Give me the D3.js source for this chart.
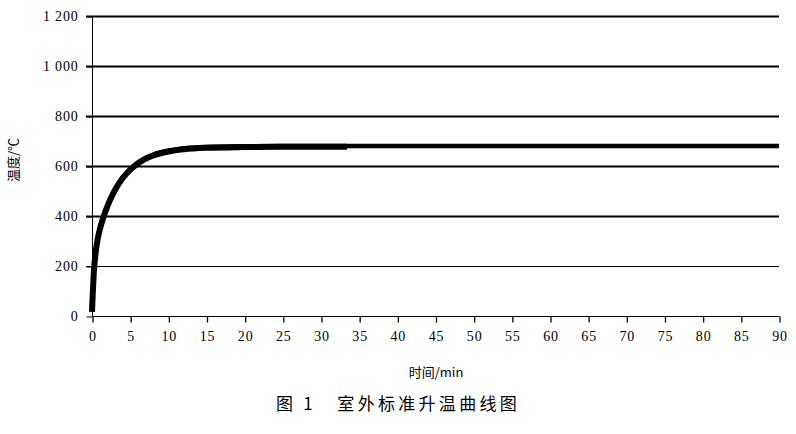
<!DOCTYPE html>
<html>
<head>
<meta charset="utf-8">
<script src="https://cdn.jsdelivr.net/npm/d3@7"></script>
<style>
  body { margin: 0; background: #fff; }
  text { fill: #000; }
</style>
</head>
<body>
<div class="viz"></div>
<script>
// values
const times = [0, 0.25, 0.5, 0.75, 1, 1.5, 2, 2.5, 3, 4, 5, 6, 7, 8, 10, 12, 15, 20, 25, 30, 33.4, 40, 50, 60, 70, 80, 90];
const temps = [20, 182, 263, 311, 346, 399, 441, 476, 506, 554, 588, 613, 632, 645, 661, 670, 676, 679, 680, 680, 680, 680, 680, 680, 680, 680, 680];
const xTicks = d3.range(0, 91, 5);
const yTicks = [0, 200, 400, 600, 800, 1000, 1200];
const yTickLabels = ['0', '200', '400', '600', '800', '1 000', '1 200'];
const thickUntil = 33.4;

const w = 796, h = 434;
const svg = d3.select('.viz').append('svg')
    .attr('width', w)
    .attr('height', h);

const x = d3.scaleLinear().domain([0, 90]).range([92, 779]);
const y = d3.scaleLinear().domain([0, 1200]).range([316, 16]);

const serif = '"Liberation Serif"';
const cjk = '"Noto Sans CJK SC"';

// horizontal grid lines with short tick stubs on the left
svg.append('g').selectAll('line')
    .data(yTicks.filter(d => d > 0))
    .enter()
    .append('line')
    .attr('x1', 86)
    .attr('x2', x(90))
    .attr('y1', d => Math.round(y(d)) + 0.5)
    .attr('y2', d => Math.round(y(d)) + 0.5)
    .attr('stroke', '#000')
    .attr('stroke-width', d => d === 200 ? 1.2 : 2);

// y axis
const yAxis = d3.axisLeft(y)
    .tickValues(yTicks)
    .tickFormat((d, i) => yTickLabels[i])
    .tickSize(6)
    .tickPadding(8);
const gy = svg.append('g')
    .attr('transform', 'translate(92.5,0.5)')
    .call(yAxis);
gy.attr('font-family', null).attr('font-size', null);
gy.select('.domain').attr('stroke', '#000').attr('d', `M0,${y(1200)}V${y(0)}`);
gy.selectAll('.tick line').attr('stroke', '#000');
gy.selectAll('.tick text')
    .style('font-family', serif)
    .style('font-size', '14px')
    .style('letter-spacing', '0.8px')
    .style('white-space', 'pre')
    .style('fill', '#000');

// x axis
const xAxis = d3.axisBottom(x)
    .tickValues(xTicks)
    .tickSize(6)
    .tickPadding(9);
const gx = svg.append('g')
    .attr('transform', 'translate(0.5,316.5)')
    .call(xAxis);
gx.attr('font-family', null).attr('font-size', null);
gx.select('.domain').attr('stroke', '#000').attr('d', `M${x(0)},0H${x(90)}`);
gx.selectAll('.tick line').attr('stroke', '#000').attr('stroke-width', 1.3);
gx.selectAll('.tick text')
    .style('font-family', serif)
    .style('font-size', '14px')
    .style('letter-spacing', '0.8px')
    .style('fill', '#000');

// curve
const points = times.map((t, i) => ({ t: t, v: temps[i] }));
const line = d3.line()
    .x(d => x(d.t))
    .y(d => y(d.v))
    .curve(d3.curveMonotoneX);

svg.append('path')
    .datum(points)
    .attr('d', line)
    .attr('fill', 'none')
    .attr('stroke', '#000')
    .attr('stroke-width', 4.5);

svg.append('path')
    .datum(points.filter(d => d.t <= thickUntil))
    .attr('d', line)
    .attr('transform', 'translate(0,0.8)')
    .attr('fill', 'none')
    .attr('stroke', '#000')
    .attr('stroke-width', 6);

// axis titles
svg.append('text')
    .attr('transform', 'translate(18,160) rotate(-90)')
    .attr('text-anchor', 'middle')
    .style('font-family', cjk)
    .style('font-size', '13px')
    .text('温度/℃');

svg.append('text')
    .attr('x', 436)
    .attr('y', 377)
    .attr('text-anchor', 'middle')
    .style('font-family', cjk)
    .style('font-size', '13px')
    .text('时间/min');

// caption
svg.append('text')
    .attr('x', 398)
    .attr('y', 410)
    .attr('text-anchor', 'middle')
    .style('font-family', cjk)
    .style('font-size', '17px')
    .style('letter-spacing', '3.3px')
    .style('white-space', 'pre')
    .text('图 1   室外标准升温曲线图');
</script>
</body>
</html>
